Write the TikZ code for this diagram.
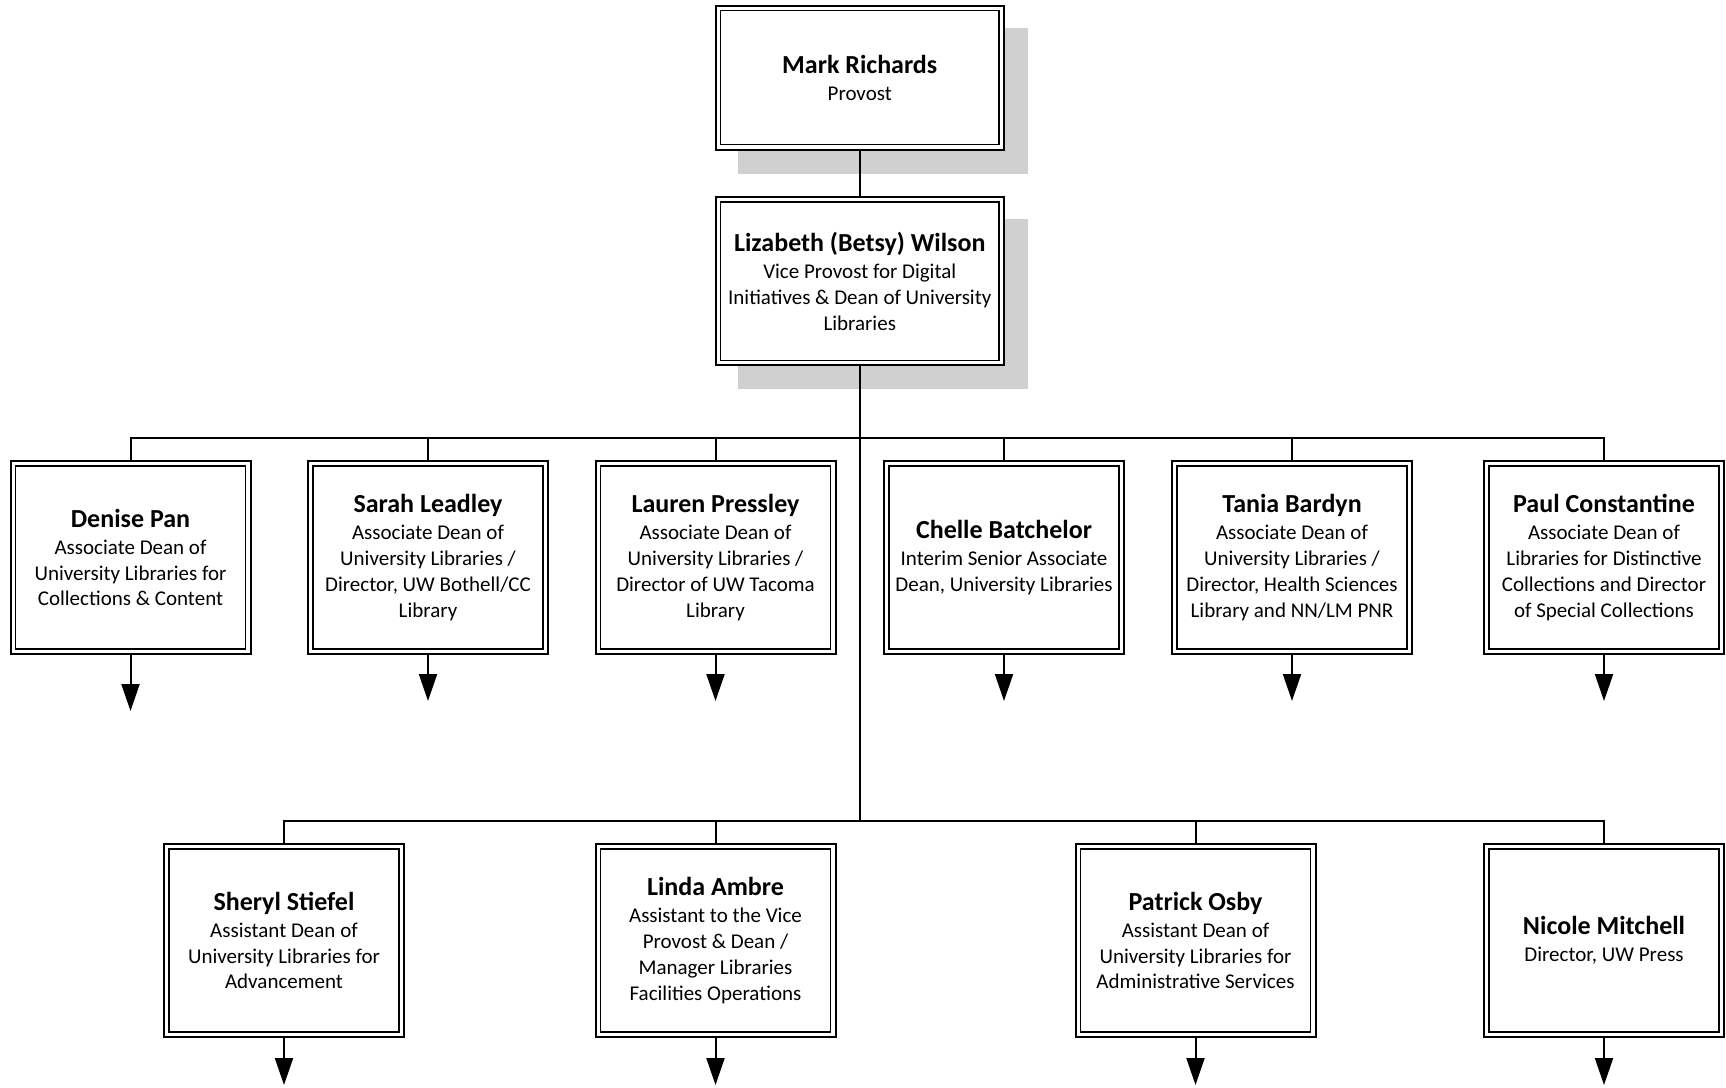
\documentclass[tikz,border=0pt]{standalone}
\usepackage{fontspec}
\setmainfont{Carlito}
\usetikzlibrary{arrows.meta,backgrounds}
\definecolor{shadowgray}{HTML}{D0D0D0}
\newcommand{\pname}[1]{{\fontsize{26}{28}\selectfont\bfseries #1}\\[1pt]}
\tikzset{
  orgbox/.style={draw, line width=2pt, fill=white, minimum width=240pt, minimum height=193pt,
    inner sep=0pt, align=center, font=\fontsize{21}{25.9}\selectfont,
    path picture={\draw[line width=1.3pt]
      ([xshift=5pt,yshift=-5pt]path picture bounding box.north west) rectangle
      ([xshift=-5pt,yshift=5pt]path picture bounding box.south east);}},
  conn/.style={line width=2pt},
  arr/.style={line width=2pt, -{Triangle[length=27pt,width=18pt]}},
  shadowbox/.style={fill=shadowgray}
}
\begin{document}
\begin{tikzpicture}[x=1pt,y=-1pt]
\useasboundingbox (0,0) rectangle (1726,1087);
% top
\node[orgbox, minimum width=288.5pt, minimum height=144pt] (mark) at (859.75,77.6)
  {\pname{Mark Richards}Provost};
\node[orgbox, minimum width=288.5pt, minimum height=168.5pt] (wilson) at (859.75,281.2)
  {\pname{Lizabeth (Betsy) Wilson}Vice Provost for Digital\\Initiatives \& Dean of University\\Libraries};
\begin{scope}[on background layer]
  \fill[shadowgray] ([xshift=23pt,yshift=-23pt]mark.north west) rectangle ([xshift=23pt,yshift=-23pt]mark.south east);
  \fill[shadowgray] ([xshift=23pt,yshift=-23pt]wilson.north west) rectangle ([xshift=23pt,yshift=-23pt]wilson.south east);
\end{scope}
% row 1
\node[orgbox] (denise) at (130.5,557.5)
  {\pname{Denise Pan}Associate Dean of\\University Libraries for\\Collections \& Content};
\node[orgbox] (sarah) at (428,557.5)
  {\pname{Sarah Leadley}Associate Dean of\\University Libraries /\\Director, UW Bothell/CC\\Library};
\node[orgbox] (lauren) at (715.5,557.5)
  {\pname{Lauren Pressley}Associate Dean of\\University Libraries /\\Director of UW Tacoma\\Library};
\node[orgbox] (chelle) at (1004,557.5)
  {\pname{Chelle Batchelor}Interim Senior Associate\\Dean, University Libraries};
\node[orgbox] (tania) at (1292,557.5)
  {\pname{Tania Bardyn}Associate Dean of\\University Libraries /\\Director, Health Sciences\\Library and NN/LM PNR};
\node[orgbox] (paul) at (1604,557.5)
  {\pname{Paul Constantine}Associate Dean of\\Libraries for Distinctive\\Collections and Director\\of Special Collections};
% row 2
\node[orgbox] (sheryl) at (284,940.5)
  {\pname{Sheryl Stiefel}Assistant Dean of\\University Libraries for\\Advancement};
\node[orgbox] (linda) at (715.5,940.5)
  {\pname{Linda Ambre}Assistant to the Vice\\Provost \& Dean /\\Manager Libraries\\Facilities Operations};
\node[orgbox] (patrick) at (1195.5,940.5)
  {\pname{Patrick Osby}Assistant Dean of\\University Libraries for\\Administrative Services};
\node[orgbox] (nicole) at (1604,940.5)
  {\pname{Nicole Mitchell}Director, UW Press};
% bus coordinates
\coordinate (b1) at (859.75,438);
\coordinate (b2) at (859.75,821);
% connectors
\draw[conn] (mark.south) -- (wilson.north);
\draw[conn] (wilson.south) -- (b2);
\foreach \n in {denise,sarah,lauren,chelle,tania,paul}
  \draw[conn] (b1) -| (\n.north);
\foreach \n in {sheryl,linda,patrick,nicole}
  \draw[conn] (b2) -| (\n.north);
% arrows
\coordinate (denise-e) at ([yshift=-56pt]denise.south);
\draw[arr] (denise.south) -- (denise-e);
\foreach \n in {sarah,lauren,chelle,tania,paul}{
  \coordinate (\n-e) at ([yshift=-46pt]\n.south);
  \draw[arr] (\n.south) -- (\n-e);}
\foreach \n in {sheryl,linda,patrick,nicole}{
  \coordinate (\n-e) at ([yshift=-47pt]\n.south);
  \draw[arr] (\n.south) -- (\n-e);}
\end{tikzpicture}
\end{document}
